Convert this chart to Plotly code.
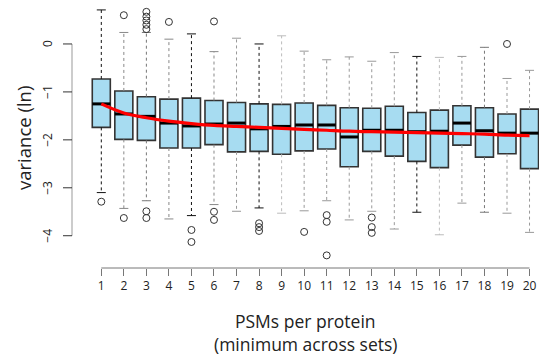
import plotly.graph_objects as go

# ---------------- data ----------------
groups = list(range(1, 21))
tick_labels = [str(g) for g in groups]
q1 = [-1.74, -1.99, -2.01, -2.17, -2.17, -2.10, -2.25, -2.24, -2.30, -2.23,
      -2.19, -2.56, -2.24, -2.34, -2.45, -2.58, -2.11, -2.36, -2.29, -2.60]
median = [-1.25, -1.46, -1.51, -1.65, -1.71, -1.67, -1.65, -1.77, -1.72, -1.69,
          -1.69, -1.94, -1.80, -1.80, -1.83, -1.82, -1.65, -1.81, -1.86, -1.86]
q3 = [-0.73, -0.98, -1.10, -1.15, -1.13, -1.18, -1.22, -1.25, -1.26, -1.23,
      -1.28, -1.33, -1.34, -1.30, -1.43, -1.38, -1.29, -1.33, -1.46, -1.36]
whisker_hi = [0.71, 0.24, 0.24, 0.10, 0.21, -0.16, 0.12, 0.00, 0.17, -0.15,
              -0.33, -0.27, -0.36, -0.18, -0.26, -0.28, -0.26, -0.07, -0.72, -0.55]
whisker_lo = [-3.10, -3.43, -3.27, -3.65, -3.58, -3.35, -3.49, -3.42, -3.53, -3.48,
              -3.27, -3.67, -3.49, -3.86, -3.51, -3.98, -3.32, -3.51, -3.53, -3.93]
outlier_x = [1, 2, 2, 3, 3, 3, 3, 3, 3, 3, 4, 5, 5, 6, 6, 6, 8, 8, 8, 10,
             11, 11, 11, 13, 13, 13, 19]
outlier_y = [-3.29, 0.60, -3.63, 0.67, 0.57, 0.49, 0.40, 0.31, -3.49, -3.63,
             0.46, -3.88, -4.13, 0.47, -3.50, -3.67, -3.74, -3.82, -3.90, -3.92,
             -3.57, -3.71, -4.41, -3.62, -3.82, -3.94, 0.00]
trend = [-1.25, -1.44, -1.54, -1.61, -1.66, -1.70, -1.72, -1.74, -1.76, -1.78,
         -1.80, -1.82, -1.83, -1.84, -1.85, -1.86, -1.87, -1.88, -1.90, -1.91]
y_ticks = [0, -1, -2, -3, -4]
y_tick_text = ["0", "\u22121", "\u22122", "\u22123", "\u22124"]
x_title_lines = ["PSMs per protein", "(minimum across sets)"]
y_title = "variance (ln)"

# ---------------- styles ----------------
BOXW = 0.8
CAPW = 0.2
FILL = "rgb(167,220,241)"
EDGE = "#333333"
whisk_col = ["#111", "#888", "#777", "#888", "#111", "#888", "#999", "#111", "#bbb", "#999",
             "#999", "#999", "#999", "#999", "#111", "#bbb", "#999", "#777", "#999", "#999"]
FONT = "Open Sans"
W, H = 539, 356
ML, MB = 72, 88
PW, PH = W - ML, H - MB

fig = go.Figure()

# whiskers (dashed) and caps
for i, g in enumerate(groups):
    fig.add_trace(go.Scatter(
        x=[g, g, None, g, g], y=[q3[i], whisker_hi[i], None, q1[i], whisker_lo[i]],
        mode="lines", line=dict(color=whisk_col[i], width=1, dash="3px,3px"),
        hoverinfo="skip", showlegend=False))
    fig.add_trace(go.Scatter(
        x=[g - CAPW, g + CAPW, None, g - CAPW, g + CAPW],
        y=[whisker_hi[i], whisker_hi[i], None, whisker_lo[i], whisker_lo[i]],
        mode="lines", line=dict(color=whisk_col[i], width=1),
        hoverinfo="skip", showlegend=False))

# boxes
fig.add_trace(go.Box(
    x=groups, q1=q1, median=median, q3=q3, lowerfence=q1, upperfence=q3,
    width=BOXW, fillcolor=FILL, line=dict(color=EDGE, width=1.6),
    boxpoints=False, showlegend=False, whiskerwidth=0))

# thick medians
mx, my = [], []
for i, g in enumerate(groups):
    mx += [g - BOXW / 2, g + BOXW / 2, None]
    my += [median[i], median[i], None]
fig.add_trace(go.Scatter(x=mx, y=my, mode="lines",
                         line=dict(color="black", width=3),
                         hoverinfo="skip", showlegend=False))

# trend line
fig.add_trace(go.Scatter(x=groups, y=trend, mode="lines",
                         line=dict(color="#ff0000", width=3.2, shape="spline"),
                         hoverinfo="skip", showlegend=False))

# outliers
fig.add_trace(go.Scatter(x=outlier_x, y=outlier_y, mode="markers",
                         marker=dict(symbol="circle-open", size=7,
                                     color="#333", line=dict(width=1)),
                         hoverinfo="skip", showlegend=False))

# R-style axis lines
fig.add_shape(type="line", xref="x", yref="paper", x0=groups[0], x1=groups[-1],
              y0=0, y1=0, line=dict(color="#777", width=1))
fig.add_shape(type="line", xref="paper", yref="y", x0=0, x1=0,
              y0=y_ticks[0], y1=y_ticks[-1], line=dict(color="#aaa", width=1.2))
# y tick marks (9 px long)
for t in y_ticks:
    fig.add_shape(type="line", xref="paper", yref="y", x0=-9 / PW, x1=0,
                  y0=t, y1=t, line=dict(color="#333", width=1))

annotations = []
for line_text, cy in zip(x_title_lines, [321, 344]):
    annotations.append(dict(text=line_text, xref="paper", yref="paper",
                            x=0.5, y=-(cy - PH) / PH, xanchor="center", yanchor="middle",
                            showarrow=False, font=dict(size=17.5, family=FONT, color="#222")))
annotations.append(dict(text=y_title, xref="paper", yref="paper", x=(23 - ML) / PW,
                        y=1 - 138 / PH, xanchor="center", yanchor="middle", textangle=-90,
                        showarrow=False, font=dict(size=18.5, family=FONT, color="#222")))
# y tick labels (rotated, R style)
for t, s in zip(y_ticks, y_tick_text):
    annotations.append(dict(text=s, xref="paper", yref="y", x=(48 - ML) / PW, y=t,
                            xanchor="center", yanchor="middle", textangle=-90,
                            showarrow=False, font=dict(size=12, family=FONT, color="#222")))

fig.update_layout(
    width=W, height=H,
    margin=dict(l=ML, r=0, t=0, b=MB),
    paper_bgcolor="white", plot_bgcolor="white",
    font=dict(family=FONT, color="#222"),
    xaxis=dict(range=[-0.30, 20.42], tickvals=groups, ticktext=tick_labels,
               showgrid=False, zeroline=False, showline=False,
               ticks="outside", ticklen=7, tickcolor="#777", tickwidth=1,
               tickfont=dict(size=12, color="#222")),
    yaxis=dict(range=[-4.673, 0.917], tickvals=y_ticks,
               showgrid=False, zeroline=False, showline=False,
               ticks="", showticklabels=False),
    annotations=annotations,
)

fig.write_html("out.html")
